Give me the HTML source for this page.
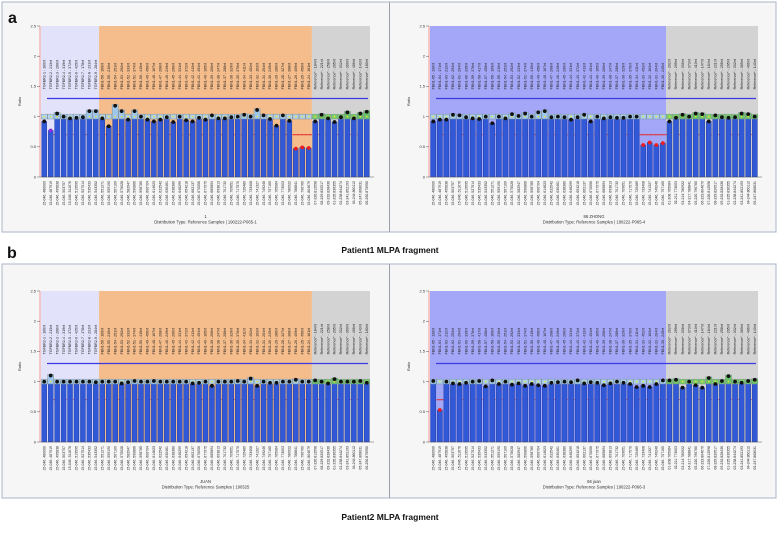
<!DOCTYPE html>
<html><head><meta charset="utf-8"><style>
html,body{margin:0;padding:0;background:#fff;}
svg{display:block;font-family:"Liberation Sans",sans-serif;}
</style></head><body>
<svg id="fig" width="778" height="537" viewBox="0 0 778 537">
  <rect x="0" y="0" width="778" height="537" fill="#ffffff"/>
  <rect x="2" y="2" width="774" height="230" fill="#f6f6f6" stroke="#aab4c8" stroke-width="1"/>
  <line x1="389.5" y1="2" x2="389.5" y2="232" stroke="#9aa0aa" stroke-width="1"/>
  <rect x="2" y="264" width="774" height="234" fill="#f6f6f6" stroke="#aab4c8" stroke-width="1"/>
  <line x1="389.5" y1="264" x2="389.5" y2="498" stroke="#9aa0aa" stroke-width="1"/>
  <text x="8" y="23" font-size="16" font-weight="bold" fill="#111">a</text>
  <text x="7" y="258" font-size="16" font-weight="bold" fill="#111">b</text>
  <text x="390" y="253" font-size="8.5" font-weight="bold" fill="#111" text-anchor="middle">Patient1 MLPA fragment</text>
  <text x="390" y="520" font-size="8.5" font-weight="bold" fill="#111" text-anchor="middle">Patient2 MLPA fragment</text>
  <g id="charts"></g>
</svg>
<script>
// Chart A (Patient1, sample 1)
const aRegions = [9, 33, 9];
const aValues = [0.92,0.77,1.05,1.0,0.97,0.98,0.99,1.09,1.09,
  0.97,0.84,1.18,1.09,0.95,1.09,1.0,0.95,0.92,0.95,0.99,0.91,1.0,0.94,0.92,0.98,0.95,1.02,0.97,0.97,0.99,1.0,1.03,1.0,1.11,1.02,0.96,0.85,1.02,0.93,0.47,0.49,0.48,
  0.92,1.03,0.97,0.91,0.99,1.07,0.97,1.05,1.08];
// Chart B (Patient1, 86 ZHONG)
const bRegions = [36, 14];
const bValues = [0.92,0.95,0.95,1.03,1.02,0.99,0.97,0.96,1.0,0.89,1.0,0.97,1.04,1.01,1.05,1.0,1.07,1.09,0.99,1.0,0.99,0.95,0.99,1.03,0.92,1.0,0.97,0.99,0.98,0.98,1.0,1.0,0.53,0.57,0.53,0.56,
  0.92,0.98,1.03,1.0,1.05,1.04,0.92,1.02,0.99,0.98,0.99,1.05,1.04,1.0];
// Chart C (Patient2, JUAN)
const cRegions = [9, 33, 9];
const cValues = [1.0,1.1,1.0,1.0,1.0,1.0,1.0,1.0,0.99,
  1.0,1.0,1.0,0.97,0.99,1.01,1.0,1.0,1.01,1.0,1.0,1.0,1.0,1.0,0.97,0.98,1.0,0.93,1.0,1.0,1.0,1.01,1.0,1.05,0.93,1.0,0.98,0.98,1.0,1.0,1.03,1.0,1.0,
  1.02,1.0,0.97,1.04,1.0,1.0,1.0,1.01,0.98];
// Chart D (Patient2, 66 juan)
const dRegions = [36, 14];
const dValues = [1.01,0.53,1.0,0.97,0.96,0.98,1.0,1.01,0.92,1.02,0.96,1.0,0.95,0.97,0.93,0.96,0.94,0.93,0.98,0.99,1.0,0.99,1.02,0.97,0.99,0.98,0.94,0.97,1.0,0.98,0.96,0.91,0.93,0.91,0.96,1.02,
  1.02,1.03,0.9,1.0,0.94,0.9,1.06,0.96,1.01,1.09,1.0,0.98,1.01,1.03];
const yTicks = [0, 0.5, 1, 1.5, 2, 2.5];
const yTickLabels = ["0", "0.5", "1", "1.5", "2", "2.5"];
const lowerThreshold = 0.7;
const upperThreshold = 1.3;

const NS = "http://www.w3.org/2000/svg";
function mk(tag, attrs, parent){
  const e = document.createElementNS(NS, tag);
  for (const k in attrs) e.setAttribute(k, attrs[k]);
  parent.appendChild(e);
  return e;
}

function drawChart(cfg){
  const root = document.getElementById('charts');
  const g = mk('g', {}, root);
  
  
  const n = cfg.values.length;
  const step = (cfg.x1 - cfg.x0) / n;
  const xAt = i => cfg.x0 + step * (i + 0.5);
  const yAt = v => cfg.yZero - (cfg.yZero - cfg.yTop) * v / 2.5;

  // regions
  let idx = 0;
  cfg.regions.forEach((cnt, r) => {
    const rect = mk('rect', {x: cfg.x0 + idx*step, y: cfg.yTop, width: cnt*step, height: cfg.yZero - cfg.yTop, fill: cfg.colors[r]}, g);
    
    
    idx += cnt;
  });
  const isRef = i => i >= n - cfg.regions[cfg.regions.length-1];

  // probe labels (top)
  for (let i = 0; i < n; i++){
    let lab;
    if (isRef(i)) lab = 'Reference* - ' + (130 + (i*37)%300) + 'nt';
    else if (cfg.tgf && i < cfg.regions[0]) lab = 'TGFBR2-' + (i+1) + ' - ' + (160 + (i*53)%300) + 'nt';
    else lab = 'FBN1-' + (65 - i) + ' - ' + (130 + (i*41)%330) + 'nt';
    const t = mk('text', {x: 0, y: 0, 'font-size': 3.6, fill: '#222', transform: 'translate(' + (xAt(i)+1.2) + ',' + yAt(1.45) + ') rotate(-90)'}, g);
    t.textContent = lab;
    
    
  }

  // threshold lines
  const ul = mk('line', {x1: cfg.x0+6, x2: cfg.x1-2, y1: yAt(upperThreshold), y2: yAt(upperThreshold), stroke: '#3a3ae0', 'stroke-width': 1.2}, g);
  
  
  const ll = mk('line', {x1: cfg.x0+8, x2: cfg.x1-2, y1: yAt(lowerThreshold), y2: yAt(lowerThreshold), stroke: '#e04040', 'stroke-width': 0.7, 'stroke-dasharray': '2,2'}, g);
  
  

  // bars, boxes, dots
  const bw = step * 0.78;
  for (let i = 0; i < n; i++){
    const v = cfg.values[i];
    const bx = xAt(i) - bw/2;
    const bar = mk('rect', {x: bx, y: yAt(v), width: bw, height: cfg.yZero - yAt(v), fill: '#3158d6', stroke: '#1c3596', 'stroke-width': 0.4}, g);
    
    
    const hi = Math.max(1.04, v + 0.02);
    const box = mk('rect', {x: bx - 0.5, y: yAt(hi), width: bw + 1, height: yAt(0.96) - yAt(hi), fill: isRef(i) ? '#6fcf5a' : '#a9d4ee', stroke: '#7f8f99', 'stroke-width': 0.5, opacity: 0.9}, g);
    
    
    const ym = mk('circle', {cx: xAt(i), cy: yAt(1.0), r: 0.8, fill: '#f2e23a'}, g);
    
    
    const low = v < lowerThreshold;
    if (low){
      const seg = mk('line', {x1: xAt(i)-step/2, x2: xAt(i)+step/2, y1: yAt(lowerThreshold), y2: yAt(lowerThreshold), stroke: '#e03030', 'stroke-width': 1}, g);
      
      
    }
    let col = '#111';
    if (low) col = '#ee1c1c';
    else if (v < 0.8) col = '#8a2be2';
    const dot = mk('circle', {cx: xAt(i), cy: yAt(v), r: 1.9, fill: col}, g);
    
    
    // x label
    const xl = mk('text', {x: 0, y: 0, 'font-size': 3.5, fill: '#222', 'text-anchor': 'end', transform: 'translate(' + (xAt(i)+1.2) + ',' + (cfg.yZero+4) + ') rotate(-90)'}, g);
    xl.textContent = (isRef(i) ? ('0' + (i%9+1) + '-' + (100+i*3)) : '15-046.') + '.' + (480000 + i*7919 % 400000);
    
    
  }

  // axes
  const ya = mk('line', {x1: cfg.x0-1, x2: cfg.x0-1, y1: cfg.yTop, y2: cfg.yZero, stroke: '#f08080', 'stroke-width': 0.8}, g);
  
  
  const xa = mk('line', {x1: cfg.x0-1, x2: cfg.x1+4, y1: cfg.yZero, y2: cfg.yZero, stroke: '#555', 'stroke-width': 0.6}, g);
  
  
  yTicks.forEach((tv, k) => {
    mk('line', {x1: cfg.x0-4, x2: cfg.x0-1, y1: yAt(tv), y2: yAt(tv), stroke: '#555', 'stroke-width': 0.5}, g);
    const tl = mk('text', {x: cfg.x0-5, y: yAt(tv)+1.3, 'font-size': 4, fill: '#333', 'text-anchor': 'end'}, g);
    tl.textContent = yTickLabels[k];
    
    
  });
  const yt = mk('text', {x: 0, y: 0, 'font-size': 4, fill: '#333', 'text-anchor': 'middle', transform: 'translate(' + (cfg.x0-20) + ',' + yAt(1.25) + ') rotate(-90)'}, g);
  yt.textContent = 'Ratio';
  
  
  const cx = (cfg.x0 + cfg.x1) / 2;
  const t1 = mk('text', {x: cx, y: cfg.yZero+41, 'font-size': 4.2, fill: '#333', 'text-anchor': 'middle'}, g);
  t1.textContent = cfg.sample;
  
  
  const t2 = mk('text', {x: cx, y: cfg.yZero+46.5, 'font-size': 4.2, fill: '#333', 'text-anchor': 'middle'}, g);
  t2.textContent = cfg.dist;
  
  
}

drawChart({name: 'chart-patient1-left', x0: 41, x1: 370, yTop: 26, yZero: 177, regions: aRegions, values: aValues, colors: ['#e2e2fb', '#f5bd8c', '#d3d3d3'], tgf: true, sample: '1', dist: 'Distribution Type: Reference Samples | 190222-P065-1'});
drawChart({name: 'chart-patient1-right', x0: 430, x1: 758, yTop: 26, yZero: 177, regions: bRegions, values: bValues, colors: ['#a4a7f7', '#d3d3d3'], tgf: false, sample: '86 ZHONG', dist: 'Distribution Type: Reference Samples | 190222-P065-4'});
drawChart({name: 'chart-patient2-left', x0: 41, x1: 370, yTop: 291, yZero: 442, regions: cRegions, values: cValues, colors: ['#e2e2fb', '#f5bd8c', '#d3d3d3'], tgf: true, sample: 'JUAN', dist: 'Distribution Type: Reference Samples | 190325'});
drawChart({name: 'chart-patient2-right', x0: 430, x1: 758, yTop: 291, yZero: 442, regions: dRegions, values: dValues, colors: ['#a4a7f7', '#d3d3d3'], tgf: false, sample: '66 juan', dist: 'Distribution Type: Reference Samples | 190222-P066-3'});
</script>
</body></html>
